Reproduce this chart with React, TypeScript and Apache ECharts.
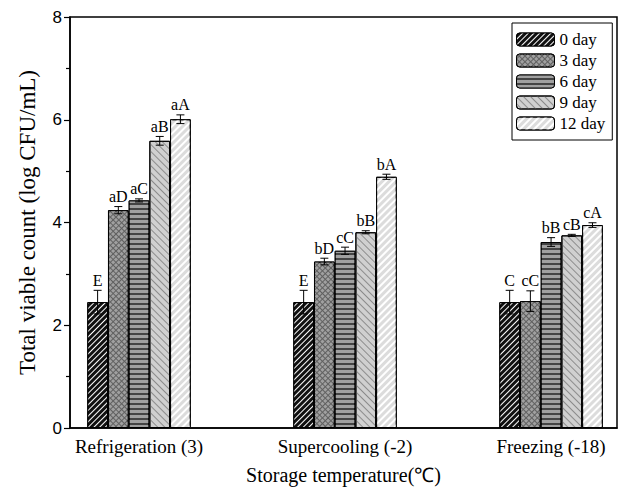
import React, { useEffect, useRef } from "react";
import * as echarts from "echarts";

const categories = ["Refrigeration (3)", "Supercooling (-2)", "Freezing (-18)"];
const categoryPos = [1, 2, 3];
const days = ["0 day", "3 day", "6 day", "9 day", "12 day"];

const day0 = [2.45, 2.45, 2.45];
const day3 = [4.24, 3.24, 2.47];
const day6 = [4.43, 3.45, 3.62];
const day9 = [5.59, 3.81, 3.75];
const day12 = [6.01, 4.89, 3.95];

const day0Err = [0.23, 0.23, 0.23];
const day3Err = [0.07, 0.065, 0.2];
const day6Err = [0.03, 0.07, 0.085];
const day9Err = [0.085, 0.03, 0.02];
const day12Err = [0.085, 0.05, 0.045];

const day0Letters = ["E", "E", "C"];
const day3Letters = ["aD", "bD", "cC"];
const day6Letters = ["aC", "cC", "bB"];
const day9Letters = ["aB", "bB", "cB"];
const day12Letters = ["aA", "bA", "cA"];

const yTicks = [0, 2, 4, 6, 8];

const BAR_W = 20.7;
const SERIF = "'Liberation Serif', 'Times New Roman', serif";
const SANS = "'Liberation Sans', Arial, sans-serif";

const means = [day0, day3, day6, day9, day12];
const errs = [day0Err, day3Err, day6Err, day9Err, day12Err];
const letters = [day0Letters, day3Letters, day6Letters, day9Letters, day12Letters];

const styles = [
  {
    color: "#111111",
    decal: { symbol: "rect", symbolSize: 1, dashArrayX: [1, 0], dashArrayY: [1, 3], rotation: -Math.PI / 4, color: "#ffffff" },
  },
  {
    color: "#606060",
    decal: { symbol: "rect", symbolSize: 1, dashArrayX: [3, 1], dashArrayY: [3, 1], rotation: Math.PI / 4, color: "#a0a0a0" },
  },
  {
    color: "#444444",
    decal: { symbol: "rect", symbolSize: 1, dashArrayX: [1, 0], dashArrayY: [2.5, 1.5], rotation: 0, color: "#a0a0a0" },
  },
  {
    color: "#d0d0d0",
    decal: { symbol: "rect", symbolSize: 1, dashArrayX: [1, 0], dashArrayY: [1, 4], rotation: Math.PI / 4, color: "#8c8c8c" },
  },
  {
    color: "#dcdcdc",
    decal: { symbol: "rect", symbolSize: 1, dashArrayX: [1, 0], dashArrayY: [1.2, 3], rotation: -Math.PI / 4, color: "#ffffff" },
  },
];

export default function App() {
  const ref = useRef<HTMLDivElement>(null);

  useEffect(() => {
    document.body.style.margin = "0";
    if (!ref.current) return;
    const chart = echarts.init(ref.current, null, { renderer: "svg" });

    const errData: number[][] = [];
    const errLabels: string[] = [];
    for (let i = 0; i < days.length; i++) {
      for (let c = 0; c < categories.length; c++) {
        errData.push([categoryPos[c], means[i][c], errs[i][c], i]);
        errLabels.push(letters[i][c]);
      }
    }

    const barSeries = days.map((d, i) => ({
      name: d,
      type: "bar",
      barWidth: BAR_W,
      barGap: "0%",
      data: categoryPos.map((p, c) => [p, means[i][c]]),
      itemStyle: {
        color: styles[i].color,
        decal: styles[i].decal,
        borderColor: "#000",
        borderWidth: 1,
      },
      z: 2,
    }));

    const option: any = {
      animation: false,
      backgroundColor: "#ffffff",
      grid: {
        left: 70,
        right: 7,
        top: 17,
        bottom: 62,
        show: true,
        borderColor: "#000",
        borderWidth: 1.5,
        backgroundColor: "transparent",
      },
      legend: {
        data: days,
        orient: "vertical",
        left: 512,
        top: 23,
        itemWidth: 38,
        itemHeight: 13,
        itemGap: 4,
        padding: [8, 7, 8, 4],
        borderColor: "#000",
        borderWidth: 1,
        borderRadius: 0,
        textStyle: { fontFamily: SERIF, fontSize: 17, color: "#000" },
        itemStyle: { borderColor: "#000", borderWidth: 1 },
      },
      xAxis: {
        type: "value",
        min: 0.665,
        max: 3.32,
        name: "Storage temperature(℃)",
        nameLocation: "middle",
        nameGap: 37,
        nameTextStyle: { fontFamily: SERIF, fontSize: 20, color: "#000" },
        axisLine: { show: true, lineStyle: { color: "#000", width: 1.5 } },
        axisTick: { show: false },
        splitLine: { show: false },
        axisLabel: {
          customValues: categoryPos,
          formatter: (v: number) => categories[Math.round(v) - 1] ?? "",
          fontFamily: SERIF,
          fontSize: 19,
          color: "#000",
          margin: 9,
        },
      },
      yAxis: {
        type: "value",
        min: 0,
        max: 8,
        interval: 2,
        name: "Total viable count (log CFU/mL)",
        nameLocation: "middle",
        nameGap: 31,
        nameTextStyle: { fontFamily: SERIF, fontSize: 23, color: "#000" },
        axisLine: { show: true, lineStyle: { color: "#000", width: 1.5 } },
        axisTick: { show: true, inside: false, length: 6, lineStyle: { color: "#000", width: 1.2 } },
        minorTick: { show: true, splitNumber: 2, length: 4, lineStyle: { color: "#000", width: 1.2 } },
        splitLine: { show: false },
        minorSplitLine: { show: false },
        axisLabel: {
          customValues: yTicks,
          fontFamily: SANS,
          fontSize: 17,
          color: "#000",
          margin: 8,
        },
      },
      series: [
        ...barSeries,
        {
          name: "errors",
          type: "custom",
          z: 5,
          data: errData,
          encode: { x: 0, y: 1 },
          renderItem: (params: any, api: any) => {
            const x = api.value(0);
            const y = api.value(1);
            const e = api.value(2);
            const i = api.value(3);
            const hi = api.coord([x, y + e]);
            const lo = api.coord([x, y - e]);
            const px = hi[0] + (i - 2) * BAR_W;
            const cap = 4;
            const ls = { stroke: "#000", lineWidth: 1 };
            return {
              type: "group",
              children: [
                { type: "line", shape: { x1: px, y1: hi[1], x2: px, y2: lo[1] }, style: ls },
                { type: "line", shape: { x1: px - cap, y1: hi[1], x2: px + cap, y2: hi[1] }, style: ls },
                { type: "line", shape: { x1: px - cap, y1: lo[1], x2: px + cap, y2: lo[1] }, style: ls },
                {
                  type: "text",
                  x: px,
                  y: hi[1] - 2,
                  style: {
                    text: errLabels[params.dataIndex],
                    fill: "#000",
                    font: `16px ${SERIF}`,
                    textAlign: "center",
                    textVerticalAlign: "bottom",
                  },
                },
              ],
            };
          },
        },
      ],
    };

    chart.setOption(option);
    return () => chart.dispose();
  }, []);

  return <div ref={ref} style={{ width: 624, height: 490 }} />;
}
